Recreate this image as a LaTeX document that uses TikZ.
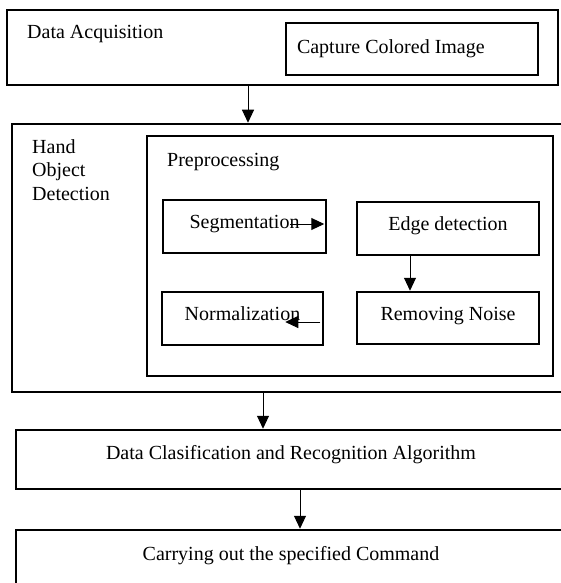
\documentclass[tikz,border=0pt]{standalone}
\usepackage{fontspec}
\setmainfont{Liberation Serif}
\usetikzlibrary{arrows.meta, positioning}

\begin{document}
\begin{tikzpicture}[
  x=1pt, y=-1pt,
  font=\fontsize{20}{23.5}\selectfont,
  outer_box/.style={rectangle, draw=black, line width=2.5pt, inner sep=0pt},
  inner_box/.style={rectangle, draw=black, line width=2.5pt, minimum height=53pt, text height=14pt, text depth=10pt, inner sep=0pt},
  title_text/.style={anchor=base west, inner sep=0pt, align=flush left},
  arrow/.style={-{Triangle[length=13pt, width=12pt]}, line width=1pt}
]
\useasboundingbox (0,0) rectangle (561,583);

% Data acquisition
\node[outer_box, minimum width=551pt, minimum height=75pt] (acq) at (282.5,47.5) {};
\node[title_text] (acq_title) at (27,39) {Data Acquisition};
\node[outer_box, minimum width=252pt, minimum height=52pt, text width=230pt, align=flush left] (capture) at (412,49) {Capture Colored Image};

% Hand object detection + preprocessing
\node[outer_box, minimum width=554pt, minimum height=268pt] (hand) at (289,258) {};
% base of a multi-line node sits on its last line
\node[title_text] (hand_title) at (32,200) {Hand\\Object\\Detection};
\node[outer_box, minimum width=406pt, minimum height=240pt] (prep) at (350,256) {};
\node[title_text] (prep_title) at (167,166) {Preprocessing};

% Preprocessing steps
\node[inner_box, minimum width=163pt] (seg) at (244.5,226.5) {Segmentation};
\node[inner_box, minimum width=182pt] (edge) at (448,228.5) {Edge detection};
\node[inner_box, minimum width=161pt] (norm) at (242.5,318.5) {Normalization};
\node[inner_box, minimum width=182pt, minimum height=52pt] (noise) at (448,318) {Removing Noise};

% Classification and command
\node[outer_box, minimum width=550pt, minimum height=59pt] (classify) at (291,459.5) {};
\node[anchor=base, inner sep=0pt] (classify_title) at (291,459) {Data Clasification and Recognition Algorithm};
\node[outer_box, minimum width=550pt, minimum height=70pt] (command) at (291,565) {};
\node[anchor=base, inner sep=0pt] (command_title) at (291,560) {Carrying out the specified Command};

% Arrows
\draw[arrow] ([xshift=-34.5pt]acq.south) -- ([xshift=-41pt]hand.north);
\draw[arrow] ([xshift=-37pt,yshift=2.5pt]seg.east) -- ([xshift=-3pt,yshift=2.5pt]seg.east);
\draw[arrow] ([xshift=-38pt]edge.south) -- ([xshift=-38pt]noise.north);
\draw[arrow] ([xshift=-4pt,yshift=-3.5pt]norm.east) -- ([xshift=-39pt,yshift=-3.5pt]norm.east);
\draw[arrow] ([xshift=-26pt]hand.south) -- ([xshift=-28pt]classify.north);
\draw[arrow] ([xshift=9pt]classify.south) -- ([xshift=9pt]command.north);

\end{tikzpicture}
\end{document}
